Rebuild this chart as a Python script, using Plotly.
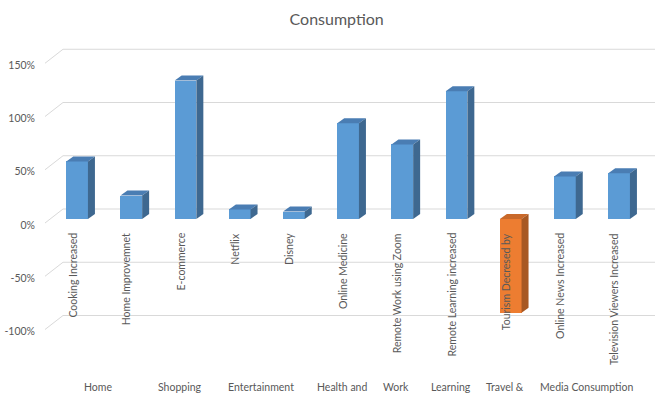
import plotly.graph_objects as go

# ---- data ----
categories = ["Cooking Increased", "Home Improvemnet", "E-commerce", "Netflix", "Disney",
              "Online Medicine", "Remote Work using Zoom", "Remote Learning increased",
              "Tourism Decresed by", "Online News Increased", "Television Viewers Increased"]
groups = ["Home", "Home", "Shopping", "Entertainment", "Entertainment", "Health and",
          "Work", "Learning", "Travel &", "Media Consumption", "Media Consumption"]
values = [54, 22, 130, 9, 7, 90, 70, 120, -88, 40, 43]
tick_values = [-100, -50, 0, 50, 100, 150]
tick_labels = ["-100%", "-50%", "0%", "50%", "100%", "150%"]

# ---- layout geometry ----
W, H = 655, 394
ML, MR, MT, MB = 40, 0, 30, 44
PX_CAT = 54.2          # pixels per category slot
PX_PCT = 1.065         # pixels per percentage point
X0 = -0.5 - 10 / PX_CAT
X1 = X0 + (W - ML - MR) / PX_CAT
Y1 = (219 - MT) / PX_PCT
Y0 = Y1 - (H - MT - MB) / PX_PCT

def dx(px):
    return px / PX_CAT

def dy(px):
    return px / PX_PCT

BAR_HALF = 0.2
DEPTH_X, DEPTH_Y = dx(7), dy(5)

TEXT = "#595959"
FONT = "Lato"
BLUE = ("#5B9BD5", "#4A7DB3", "#3E6890")
ORANGE = ("#ED7D31", "#C9692A", "#A85822")

fig = go.Figure()

xs = list(range(len(categories)))
palette = [ORANGE if v < 0 else BLUE for v in values]

# front faces
fig.add_trace(go.Bar(
    x=xs, y=values, width=2 * BAR_HALF,
    marker=dict(color=[p[0] for p in palette], line=dict(width=0)),
    hoverinfo="skip", showlegend=False,
))

# top and side faces of each column
for i, v in enumerate(values):
    top, bot = max(v, 0), min(v, 0)
    left, right = i - BAR_HALF, i + BAR_HALF
    fig.add_trace(go.Scatter(
        x=[left, right, right + DEPTH_X, left + DEPTH_X, left],
        y=[top, top, top + DEPTH_Y, top + DEPTH_Y, top],
        fill="toself", fillcolor=palette[i][1], mode="lines",
        line=dict(width=0, color=palette[i][1]), hoverinfo="skip", showlegend=False,
    ))
    fig.add_trace(go.Scatter(
        x=[right, right + DEPTH_X, right + DEPTH_X, right, right],
        y=[top, top + DEPTH_Y, bot + DEPTH_Y, bot, top],
        fill="toself", fillcolor=palette[i][2], mode="lines",
        line=dict(width=0, color=palette[i][2]), hoverinfo="skip", showlegend=False,
    ))

# back-wall gridlines with the slanted side-wall segment
shapes = []
back_x = X0 + dx(23)
front_x = X0 + dx(5)
for v in tick_values:
    yb = v + dy(10)
    shapes.append(dict(type="line", xref="x", yref="y", x0=back_x, x1=X1, y0=yb, y1=yb,
                       line=dict(color="#D9D9D9", width=1), layer="below"))
    shapes.append(dict(type="line", xref="x", yref="y", x0=front_x, x1=back_x,
                       y0=yb - dy(14), y1=yb, line=dict(color="#D9D9D9", width=1), layer="below"))

annotations = []
# rotated category labels hanging below the zero line
for i, name in enumerate(categories):
    annotations.append(dict(x=i, y=0, xref="x", yref="y", text=name, showarrow=False,
                            textangle=-90, xanchor="center", yanchor="top",
                            xshift=-5, yshift=-12, font=dict(family=FONT, size=10.5, color=TEXT)))

# group labels along the bottom
seen = []
for g in groups:
    if g not in seen:
        seen.append(g)
for g in seen:
    idx = [i for i, gg in enumerate(groups) if gg == g]
    cx = sum(idx) / len(idx)
    annotations.append(dict(x=cx, y=0, xref="x", yref="paper", text=g, showarrow=False,
                            xanchor="center", yanchor="middle", xshift=-6, yshift=-37,
                            font=dict(family=FONT, size=10.5, color=TEXT)))

shift = dy(6)
fig.update_layout(
    width=W, height=H,
    margin=dict(l=ML, r=MR, t=MT, b=MB, pad=0),
    paper_bgcolor="white", plot_bgcolor="white",
    title=dict(text="Consumption", x=0.514, xanchor="center", y=1 - 19 / H, yanchor="middle",
               font=dict(family=FONT, size=16, color=TEXT)),
    xaxis=dict(range=[X0, X1], showgrid=False, zeroline=False, showticklabels=False,
               ticks="", showline=False, fixedrange=True),
    yaxis=dict(range=[Y0, Y1], showgrid=False, zeroline=False, showticklabels=False,
               ticks="", showline=False, fixedrange=True),
    yaxis2=dict(range=[Y0 + shift, Y1 + shift], overlaying="y", side="left",
                showgrid=False, zeroline=False, showline=False, ticks="",
                tickvals=tick_values, ticktext=tick_labels, ticklabelstandoff=4,
                tickfont=dict(family=FONT, size=10.5, color=TEXT), fixedrange=True),
    shapes=shapes, annotations=annotations, bargap=0, showlegend=False,
)
# invisible carrier so the secondary axis is rendered
fig.add_trace(go.Scatter(x=[None], y=[None], yaxis="y2", showlegend=False, hoverinfo="skip"))

fig.write_html("out.html")
